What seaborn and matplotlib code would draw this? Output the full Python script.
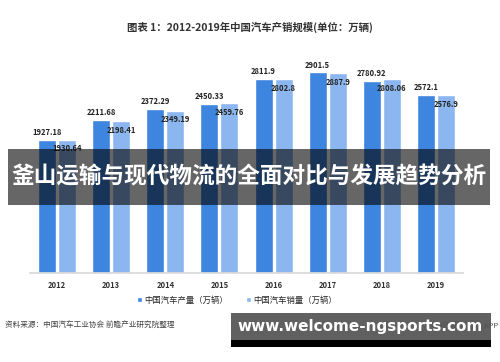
import pandas as pd
import matplotlib
matplotlib.use("Agg")
import matplotlib.pyplot as plt
import seaborn as sns
from matplotlib.patches import Rectangle

# data
years = ["2012", "2013", "2014", "2015", "2016", "2017", "2018", "2019"]
production = [1927.18, 2211.68, 2372.29, 2450.33, 2811.9, 2901.5, 2780.92, 2572.1]
sales = [1930.64, 2198.41, 2349.19, 2459.76, 2802.8, 2887.9, 2808.06, 2576.9]
prod_label = "中国汽车产量（万辆）"
sales_label = "中国汽车销量（万辆）"

df = pd.DataFrame({
    "year": years * 2,
    "value": production + sales,
    "series": [prod_label] * len(years) + [sales_label] * len(years),
})

sns.set_theme(style="white")
plt.rcParams["font.family"] = ["Noto Sans CJK SC", "DejaVu Sans"]

fig = plt.figure(figsize=(5, 3.62), dpi=100)
ax = fig.add_axes([0.06, 0.246, 0.866, 0.63])

sns.barplot(data=df, x="year", y="value", hue="series", ax=ax,
            palette=["#3d85de", "#8cb6ef"], width=0.74, gap=0.1,
            saturation=1, legend=True)

ax.set_ylim(0, 3300)
ax.set_xlim(-0.5, 7.5)
ax.set_xlabel("")
ax.set_ylabel("")
ax.set_yticks([])
for s in ["top", "right", "left"]:
    ax.spines[s].set_visible(False)
ax.spines["bottom"].set_color("#d9d9d9")
ax.tick_params(axis="x", length=0, labelsize=5.5, colors="#333333", pad=6)
for t in ax.get_xticklabels():
    t.set_fontweight("bold")

# value labels: production above the bar, sales just inside the top
ax.bar_label(ax.containers[0], labels=[f"{v:g}" for v in production],
             padding=2, fontsize=5.5, fontweight="bold", color="#222222")
ax.bar_label(ax.containers[1], labels=[f"{v:g}" for v in sales],
             padding=-10, fontsize=5.5, fontweight="bold", color="#222222")

ax.legend(loc="center", bbox_to_anchor=(0.474, 0.171),
          bbox_transform=fig.transFigure, ncol=2, frameon=False,
          fontsize=6, handlelength=0.6, handleheight=0.6,
          handletextpad=0.3, columnspacing=2.2)

fig.text(0.5, 0.925, "图表 1：2012-2019年中国汽车产销规模(单位：万辆)",
         ha="center", va="center", fontsize=7.5, fontweight="bold",
         color="#333333")
fig.text(0.01, 0.1, "资料来源：中国汽车工业协会 前瞻产业研究院整理",
         ha="left", va="center", fontsize=5.5, color="#444444")
fig.text(0.998, 0.1, "@前瞻经济学人APP", ha="right", va="center",
         fontsize=5.5, color="#555555")

# dark overlay banner with headline
fig.add_artist(Rectangle((0.016, 0.434), 0.964, 0.154,
                         transform=fig.transFigure, color="black",
                         alpha=0.6, lw=0))
fig.text(0.498, 0.51, "釜山运输与现代物流的全面对比与发展趋势分析",
         ha="center", va="center", fontsize=16.3, fontweight="bold",
         color="white")

# url box at the bottom
fig.add_artist(Rectangle((0.462, 0.061), 0.52, 0.075,
                         transform=fig.transFigure, color="#606060", lw=0))
fig.add_artist(Rectangle((0.462, 0.041), 0.52, 0.021,
                         transform=fig.transFigure, color="black", lw=0))
fig.text(0.72, 0.098, "www.welcome-ngsports.com", ha="center",
         va="center", fontsize=11, fontweight="bold", color="white",
         family=["DejaVu Sans"])

fig.savefig("out.png", dpi=100)
